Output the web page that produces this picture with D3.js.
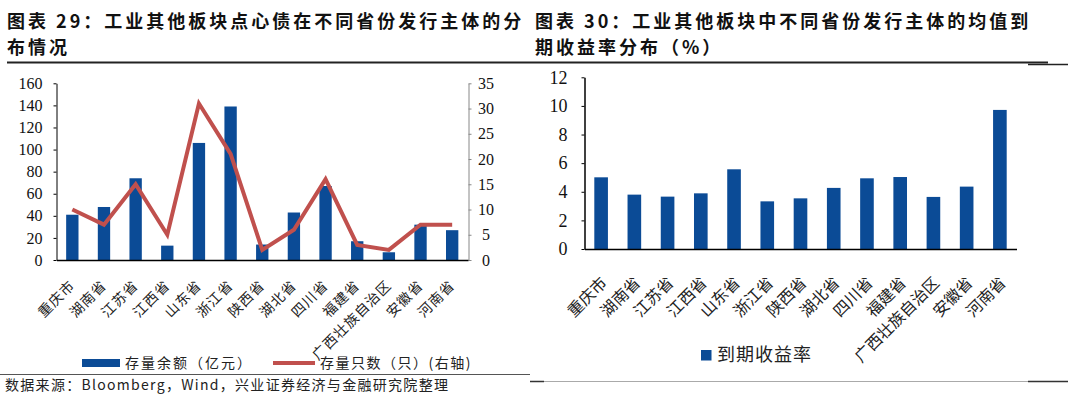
<!DOCTYPE html>
<html>
<head>
<meta charset="utf-8">
<script src="https://cdn.jsdelivr.net/npm/d3@7"></script>
<style>
  body { margin: 0; background: #fff; }
  svg { display: block; }
</style>
</head>
<body>
<div id="vis"></div>
<script>
// data
const provinces = ['重庆市', '湖南省', '江苏省', '江西省', '山东省', '浙江省', '陕西省', '湖北省', '四川省', '福建省', '广西壮族自治区', '安徽省', '河南省']
const balance = [41, 48, 74, 13, 106, 139, 14, 43, 67, 17, 7, 32, 27]        // 存量余额（亿元）
const counts = [10, 7, 15, 5, 31, 21, 2, 6, 16, 3, 2, 7, 7]                  // 存量只数（只）
const ytm = [5.01, 3.80, 3.66, 3.89, 5.57, 3.33, 3.54, 4.27, 4.94, 5.03, 3.64, 4.36, 9.72] // 到期收益率

const leftTicks = [0, 20, 40, 60, 80, 100, 120, 140, 160]
const rightTicks = [0, 5, 10, 15, 20, 25, 30, 35]
const ytmTicks = [0, 2, 4, 6, 8, 10, 12]

const title1 = ['图表 29：工业其他板块点心债在不同省份发行主体的分', '布情况']
const title2 = ['图表 30：工业其他板块中不同省份发行主体的均值到', '期收益率分布（%）']
const source = '数据来源：Bloomberg，Wind，兴业证券经济与金融研究院整理'

const blue = '#0b4b96'
const red = '#c0504d'
const cjk = '"Noto Sans CJK SC", sans-serif'
const serif = '"Liberation Serif", "Times New Roman", serif'

const W = 1080, H = 399

let svg = d3.select('#vis').append('svg')
    .attr('width', W)
    .attr('height', H)

svg.append('rect').attr('width', W).attr('height', H).attr('fill', '#fff')

// titles
function drawTitle(lines, x) {
    lines.forEach((t, i) => {
        svg.append('text')
            .attr('x', x)
            .attr('y', 28 + i * 26)
            .style('font-family', cjk)
            .style('font-size', '18px')
            .style('font-weight', 'bold')
            .attr('letter-spacing', '3px')
            .attr('fill', '#111')
            .text(t)
    })
}
drawTitle(title1, 7)
drawTitle(title2, 535)

// rules
svg.append('line').attr('x1', 7).attr('x2', 530).attr('y1', 62.5).attr('y2', 62.5)
    .attr('stroke', '#222').attr('stroke-width', 2)
svg.append('line').attr('x1', 530).attr('x2', 1048).attr('y1', 62.5).attr('y2', 62.5)
    .attr('stroke', '#222').attr('stroke-width', 2)
svg.append('line').attr('x1', 1028).attr('x2', 1068).attr('y1', 64.5).attr('y2', 64.5)
    .attr('stroke', '#222').attr('stroke-width', 1.5)

svg.append('line').attr('x1', 0).attr('x2', 530).attr('y1', 374.5).attr('y2', 374.5)
    .attr('stroke', '#555').attr('stroke-width', 1.2)
svg.append('line').attr('x1', 530).attr('x2', 1068).attr('y1', 381.5).attr('y2', 381.5)
    .attr('stroke', '#aaa').attr('stroke-width', 1)
svg.append('line').attr('x1', 530).attr('x2', 544).attr('y1', 381.5).attr('y2', 381.5)
    .attr('stroke', '#333').attr('stroke-width', 1.5)
svg.append('line').attr('x1', 1028).attr('x2', 1068).attr('y1', 381.5).attr('y2', 381.5)
    .attr('stroke', '#333').attr('stroke-width', 1.5)

// ---------- left chart ----------
let x1 = d3.scaleBand().domain(provinces).range([56.5, 468]).paddingInner(0.61).paddingOuter(0.305)
let yL = d3.scaleLinear().domain([0, 160]).range([260, 83.3])
let yR = d3.scaleLinear().domain([0, 35]).range([260, 83.3])

let g1 = svg.append('g')

g1.selectAll('.bar')
    .data(provinces)
    .enter().append('rect')
    .attr('x', d => x1(d))
    .attr('y', (d, i) => yL(balance[i]))
    .attr('width', x1.bandwidth())
    .attr('height', (d, i) => yL(0) - yL(balance[i]))
    .attr('fill', blue)

g1.append('path')
    .datum(counts)
    .attr('fill', 'none')
    .attr('stroke', red)
    .attr('stroke-width', 4)
    .attr('stroke-linejoin', 'miter')
    .attr('d', d3.line()
        .x((d, i) => x1(provinces[i]) + x1.bandwidth() / 2)
        .y(d => yR(d)))

let yLAxis = g1.append('g')
    .attr('transform', 'translate(56.5,0)')
    .call(d3.axisLeft(yL).tickValues(leftTicks).tickSize(3).tickSizeOuter(0).tickPadding(11))
yLAxis.select('.domain').attr('stroke', '#000')
yLAxis.selectAll('.tick line').attr('stroke', '#000')
yLAxis.selectAll('text').style('font-family', serif).style('font-size', '16px').attr('fill', '#111')

let yRAxis = g1.append('g')
    .attr('transform', 'translate(468.5,0)')
    .call(d3.axisRight(yR).tickValues(rightTicks).tickSize(3).tickSizeOuter(0))
yRAxis.select('.domain').attr('stroke', '#888')
yRAxis.selectAll('.tick line').attr('stroke', '#888')
yRAxis.selectAll('text').style('font-family', serif).style('font-size', '16px').attr('fill', '#111')
    .attr('text-anchor', 'middle').attr('x', 17.5)

let xAxis1 = g1.append('g')
    .attr('transform', 'translate(0,260)')
    .call(d3.axisBottom(x1).tickSize(0).tickSizeOuter(0))
xAxis1.select('.domain').attr('stroke', '#000').attr('stroke-width', 1.5)
xAxis1.selectAll('text')
    .style('font-family', cjk)
    .style('font-size', '14px')
    .attr('letter-spacing', '1px')
    .attr('fill', '#222')
    .attr('x', 0).attr('y', 0).attr('dy', '0.35em')
    .attr('text-anchor', 'end')
    .attr('transform', 'translate(0,23) rotate(-45)')

// legend left
svg.append('rect').attr('x', 82).attr('y', 359).attr('width', 38).attr('height', 8).attr('fill', blue)
svg.append('text').attr('x', 125).attr('y', 363).attr('dy', '0.35em')
    .style('font-family', cjk).style('font-size', '14px').attr('letter-spacing', '2px').attr('fill', '#222')
    .text('存量余额（亿元）')
svg.append('line').attr('x1', 273).attr('x2', 315).attr('y1', 363).attr('y2', 363)
    .attr('stroke', red).attr('stroke-width', 4)
svg.append('text').attr('x', 320).attr('y', 363).attr('dy', '0.35em')
    .style('font-family', cjk).style('font-size', '14px').attr('letter-spacing', '1.5px').attr('fill', '#222')
    .text('存量只数（只）(右轴)')

// ---------- right chart ----------
let x2 = d3.scaleBand().domain(provinces).range([584.5, 1016.5]).paddingInner(0.59).paddingOuter(0.295)
let y2 = d3.scaleLinear().domain([0, 12]).range([249, 77.3])

let g2 = svg.append('g')

g2.selectAll('.bar')
    .data(provinces)
    .enter().append('rect')
    .attr('x', d => x2(d))
    .attr('y', (d, i) => y2(ytm[i]))
    .attr('width', x2.bandwidth())
    .attr('height', (d, i) => y2(0) - y2(ytm[i]))
    .attr('fill', blue)

let y2Axis = g2.append('g')
    .attr('transform', 'translate(584.5,0)')
    .call(d3.axisLeft(y2).tickValues(ytmTicks).tickSize(3).tickSizeOuter(0).tickPadding(14))
y2Axis.select('.domain').attr('stroke', '#000').attr('stroke-width', 1.5)
y2Axis.selectAll('.tick line').attr('stroke', '#000')
y2Axis.selectAll('text').style('font-family', serif).style('font-size', '18px').attr('fill', '#111')

let xAxis2 = g2.append('g')
    .attr('transform', 'translate(0,249)')
    .call(d3.axisBottom(x2).tickSize(0).tickSizeOuter(0))
xAxis2.select('.domain').attr('stroke', '#000').attr('stroke-width', 1.5)
xAxis2.selectAll('text')
    .style('font-family', cjk)
    .style('font-size', '16px')
    .attr('fill', '#222')
    .attr('x', 0).attr('y', 0).attr('dy', '0.35em')
    .attr('text-anchor', 'end')
    .attr('transform', 'translate(3,31) rotate(-45)')

// legend right
svg.append('rect').attr('x', 701).attr('y', 350).attr('width', 10.5).attr('height', 10.5).attr('fill', blue)
svg.append('text').attr('x', 717).attr('y', 355).attr('dy', '0.35em')
    .style('font-family', cjk).style('font-size', '18px').attr('letter-spacing', '1px').attr('fill', '#222')
    .text('到期收益率')

// source
svg.append('text').attr('x', 5).attr('y', 390)
    .style('font-family', cjk).style('font-size', '14px').attr('letter-spacing', '1.3px').attr('fill', '#222')
    .text(source)
</script>
</body>
</html>
